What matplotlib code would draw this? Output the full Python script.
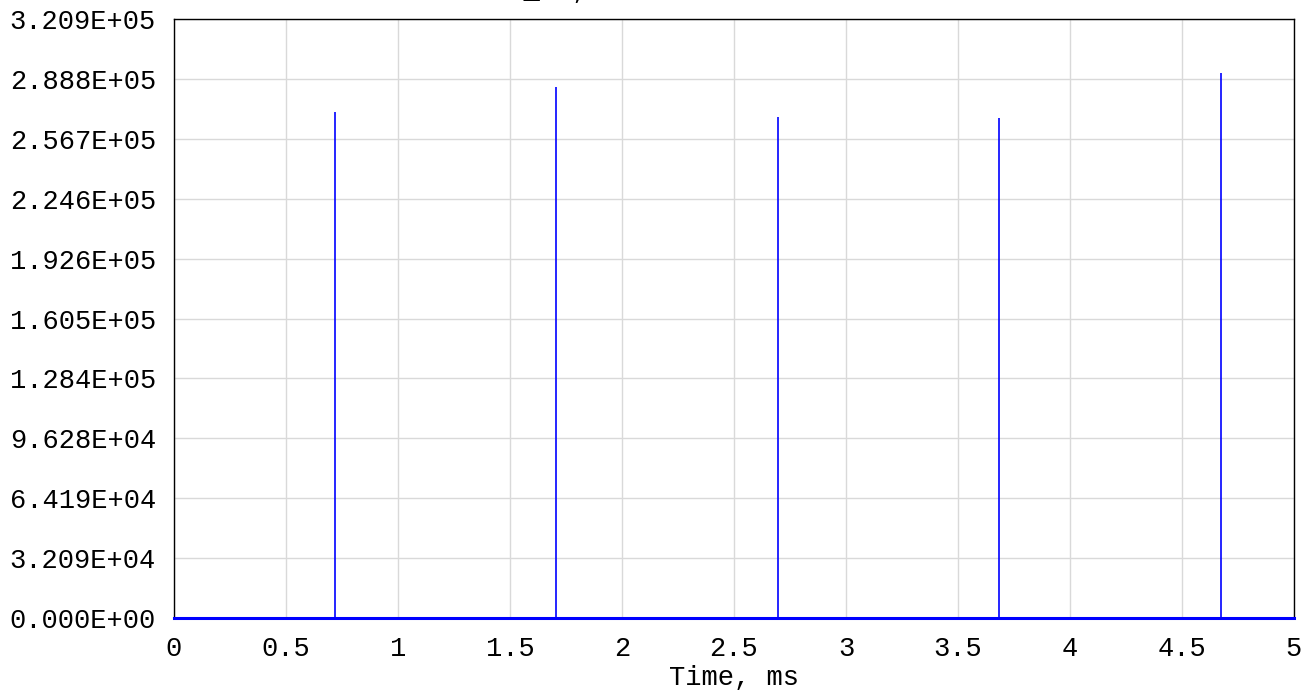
import matplotlib
matplotlib.use("Agg")
from matplotlib import pyplot as plt

# spikes (time in ms, amplitude)
spike_times = [0.719, 1.705, 2.696, 3.683, 4.674]
spike_peaks = [2.711e5, 2.845e5, 2.684e5, 2.679e5, 2.918e5]

x_min, x_max = 0, 5
y_max = 3.209e5
y_ticks = [i * y_max / 10 for i in range(11)]
y_tick_labels = ["0.000E+00", "3.209E+04", "6.419E+04", "9.628E+04", "1.284E+05",
                 "1.605E+05", "1.926E+05", "2.246E+05", "2.567E+05", "2.888E+05",
                 "3.209E+05"]
x_ticks = [0, 0.5, 1, 1.5, 2, 2.5, 3, 3.5, 4, 4.5, 5]
x_tick_labels = ["0", "0.5", "1", "1.5", "2", "2.5", "3", "3.5", "4", "4.5", "5"]

mono = ["Liberation Mono", "DejaVu Sans Mono"]

fig = plt.figure(figsize=(13.11, 6.93), dpi=100)
ax = fig.add_axes([0.1327, 0.1082, 0.8543, 0.8644])

ax.plot([x_min, x_max], [0, 0], color="#0000ff", linewidth=2.2, clip_on=False, zorder=3)
ax.vlines(spike_times, 0, spike_peaks, color="#0000ff", linewidth=1.2, zorder=3)

ax.set_xlim(x_min, x_max)
ax.set_ylim(0, y_max)
ax.set_xticks(x_ticks, x_tick_labels)
ax.set_yticks(y_ticks, y_tick_labels)
ax.tick_params(length=0, labelsize=19.5, pad=13)
for lab in ax.get_xticklabels() + ax.get_yticklabels():
    lab.set_family(mono)

ax.grid(True, color="#d9d9d9", linewidth=1.0)
ax.set_axisbelow(True)
for s in ax.spines.values():
    s.set_color("black")
    s.set_linewidth(1.0)

ax.set_xlabel("Time, ms", fontsize=19.5, family=mono, labelpad=2)

# title mostly cut off at the top edge, only descenders show
fig.text(491 / 1311, 1 + 1.5 / 693, "dI_dt, A/s", fontsize=19.5, family=mono,
         ha="left", va="baseline")

fig.savefig("out.png", dpi=100)
